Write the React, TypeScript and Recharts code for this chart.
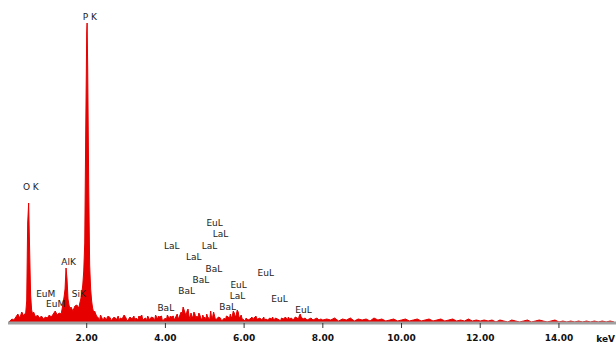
import { AreaChart, Area, XAxis, YAxis, ReferenceDot } from 'recharts';

// spectrum counts, [keV, counts]
const lowRange: [number, number][] = [
  [0.0, 0], [0.05, 2], [0.1, 4], [0.15, 3], [0.2, 6], [0.25, 9], [0.3, 5], [0.35, 11], [0.4, 7],
  [0.425, 9], [0.45, 10], [0.475, 22], [0.5, 100], [0.525, 120], [0.55, 72], [0.575, 28], [0.6, 13], [0.625, 9],
  [0.65, 11], [0.7, 6], [0.75, 8], [0.8, 5], [0.85, 7], [0.9, 4], [0.95, 6], [1.0, 5], [1.05, 8], [1.1, 6],
  [1.15, 9], [1.2, 12], [1.25, 8], [1.3, 10],
  [1.35, 9], [1.375, 14], [1.4, 20], [1.425, 26], [1.45, 34], [1.475, 55], [1.5, 44], [1.525, 24], [1.55, 18],
  [1.575, 14], [1.6, 16], [1.65, 12], [1.7, 17], [1.75, 18], [1.8, 15],
  [1.825, 20], [1.85, 24], [1.875, 30], [1.9, 38], [1.925, 52], [1.95, 80], [1.975, 190], [2.0, 290], [2.01, 300],
  [2.025, 255], [2.05, 140], [2.075, 58], [2.1, 34], [2.125, 22], [2.15, 15], [2.175, 11], [2.2, 12], [2.25, 7],
];

const midRange: [number, number][] = [
  [2.3, 5], [2.35, 8], [2.4, 4], [2.45, 6], [2.5, 3], [2.55, 7], [2.6, 5], [2.65, 4], [2.7, 6], [2.75, 3],
  [2.8, 7], [2.85, 5], [2.9, 4], [2.95, 8], [3.0, 5], [3.05, 3], [3.1, 6], [3.15, 4], [3.2, 7], [3.25, 5],
  [3.3, 3], [3.35, 6], [3.4, 8], [3.45, 4], [3.5, 5], [3.55, 7], [3.6, 3], [3.65, 6], [3.7, 5], [3.75, 8],
  [3.8, 4], [3.85, 6], [3.9, 7], [3.95, 3], [4.0, 5], [4.05, 8], [4.1, 4], [4.15, 6], [4.2, 7], [4.25, 5],
  [4.3, 9], [4.35, 6], [4.4, 11], [4.425, 9], [4.45, 16], [4.475, 13], [4.5, 10], [4.55, 12], [4.6, 7],
  [4.65, 10], [4.7, 6], [4.75, 9], [4.8, 7], [4.85, 10], [4.9, 5], [4.95, 8], [5.0, 6], [5.05, 9], [5.1, 5],
  [5.15, 12], [5.2, 6], [5.25, 7], [5.3, 4], [5.35, 6], [5.4, 5], [5.45, 3], [5.5, 5], [5.55, 7], [5.6, 6],
  [5.65, 9], [5.7, 7], [5.75, 10], [5.8, 8], [5.85, 11], [5.9, 6], [5.95, 4], [6.0, 3], [6.05, 5], [6.1, 3],
  [6.15, 4], [6.2, 6], [6.25, 5], [6.3, 7], [6.35, 4], [6.4, 5], [6.45, 3], [6.5, 6], [6.55, 4], [6.6, 3],
  [6.65, 5], [6.7, 4], [6.75, 3], [6.8, 5], [6.85, 4], [6.9, 3], [6.95, 5], [7.0, 4], [7.05, 6], [7.1, 3],
  [7.15, 4], [7.2, 5], [7.25, 3], [7.3, 6], [7.35, 5], [7.4, 7], [7.45, 6], [7.5, 4], [7.55, 5], [7.6, 3],
  [7.65, 4], [7.7, 5], [7.75, 3], [7.8, 4], [7.85, 5], [7.9, 3], [7.95, 4], [8.0, 3],
];

// in-between channels where the background is spikier
const midFine: [number, number][] = [
  [2.325, 2], [2.425, 3], [2.525, 6], [2.625, 2], [2.725, 5], [2.825, 2], [2.925, 6], [3.025, 2],
  [3.125, 5], [3.225, 2], [3.325, 7], [3.425, 3], [3.525, 2], [3.625, 5], [3.725, 2], [3.825, 7],
  [3.925, 2], [4.025, 3], [4.125, 7], [4.225, 3], [4.325, 4], [4.525, 7], [4.575, 14], [4.625, 4],
  [4.675, 6], [4.725, 11], [4.775, 4], [4.825, 5], [4.875, 8], [4.925, 3], [4.975, 5], [5.025, 3],
  [5.075, 6], [5.125, 3], [5.175, 5], [5.225, 11], [5.275, 3], [5.325, 5], [5.425, 2], [5.525, 3],
  [5.625, 4], [5.675, 5], [5.725, 12], [5.775, 6], [5.825, 13], [5.875, 5], [5.925, 8], [6.025, 2],
  [6.225, 3], [6.325, 4], [6.525, 2], [6.725, 6], [6.925, 2], [7.125, 6], [7.375, 3], [7.425, 9],
];

const highRange: [number, number][] = [
  [8.1, 4], [8.2, 3], [8.3, 5], [8.4, 2], [8.5, 4], [8.6, 3], [8.7, 5], [8.8, 2], [8.9, 4], [9.0, 3],
  [9.1, 4], [9.2, 2], [9.3, 5], [9.4, 3], [9.5, 4], [9.6, 2], [9.7, 3], [9.8, 4], [9.9, 2], [10.0, 3],
  [10.1, 4], [10.2, 2], [10.3, 3], [10.4, 4], [10.5, 2], [10.6, 3], [10.7, 4], [10.8, 2], [10.9, 3], [11.0, 4],
  [11.1, 2], [11.2, 3], [11.3, 4], [11.4, 2], [11.5, 3], [11.6, 2], [11.7, 4], [11.8, 2], [11.9, 3], [12.0, 2],
  [12.1, 3], [12.2, 2], [12.3, 3], [12.4, 1], [12.5, 3], [12.6, 2], [12.7, 1], [12.8, 3], [12.9, 2], [13.0, 1],
  [13.1, 2], [13.2, 3], [13.3, 1], [13.4, 2], [13.5, 3], [13.6, 2], [13.7, 1], [13.8, 2], [13.9, 3], [14.0, 1],
  [14.1, 2], [14.2, 1], [14.3, 2], [14.4, 1], [14.5, 2], [14.6, 1], [14.7, 2], [14.8, 1], [14.9, 2], [15.0, 1],
  [15.1, 2], [15.2, 1], [15.3, 2], [15.4, 1],
];

// peak labels: [text, keV, counts]
const peakLabels: [string, number, number][] = [
  ['P K', 2.08, 306], ['O K', 0.58, 136], ['AlK', 1.54, 61], ['EuM', 0.96, 29], ['EuM', 1.21, 19],
  ['SiK', 1.8, 29], ['BaL', 4.01, 15], ['BaL', 4.54, 32], ['BaL', 4.9, 43], ['BaL', 5.23, 54],
  ['LaL', 4.72, 66], ['LaL', 4.16, 77], ['LaL', 5.12, 77], ['LaL', 5.4, 89], ['EuL', 5.25, 100],
  ['EuL', 5.86, 38], ['LaL', 5.83, 27], ['BaL', 5.58, 16], ['EuL', 6.55, 50], ['EuL', 6.9, 24],
  ['EuL', 7.51, 13],
];

const xTicks = [2, 4, 6, 8, 10, 12, 14];

const spectrum = [...lowRange, ...midRange, ...midFine, ...highRange]
  .sort((a, b) => a[0] - b[0])
  .map(([kev, counts]) => ({ kev, counts }));

const font = '"DejaVu Sans", Verdana, sans-serif';

export default function App() {
  return (
    <div style={{ position: 'absolute', left: 0, top: 0, width: 616, height: 343, background: '#fff' }}>
      <AreaChart
        width={616}
        height={343}
        data={spectrum}
        margin={{ top: 13, right: 0, bottom: 0, left: 8 }}
      >
        <XAxis
          dataKey="kev"
          type="number"
          domain={[0, 15.45]}
          allowDataOverflow
          ticks={xTicks}
          tickFormatter={(v: number) => v.toFixed(2)}
          height={20}
          axisLine={{ stroke: '#a0a0a0', strokeWidth: 3 }}
          tickLine={{ stroke: '#333' }}
          tickSize={5}
          tickMargin={7}
          tick={{ fill: '#111', fontSize: 9, fontWeight: 'bold', fontFamily: font }}
          label={{ value: 'keV', position: 'insideBottomRight', offset: 1, fill: '#111', fontSize: 9, fontWeight: 'bold', fontFamily: font }}
        />
        <YAxis hide domain={[0, 310]} allowDataOverflow />
        <Area
          type="linear"
          dataKey="counts"
          stroke="#e60000"
          strokeWidth={1}
          fill="#e60000"
          fillOpacity={1}
          isAnimationActive={false}
        />
        {peakLabels.map(([text, kev, y], i) => (
          <ReferenceDot
            key={i}
            x={kev}
            y={y}
            r={0}
            fill="none"
            stroke="none"
            ifOverflow="visible"
            label={{ value: text, position: 'center', fill: '#222', fontSize: 9, fontFamily: font }}
          />
        ))}
      </AreaChart>
    </div>
  );
}
